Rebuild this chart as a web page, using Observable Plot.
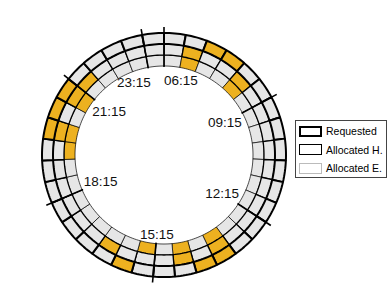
<!DOCTYPE html>
<html>
<head>
<meta charset="utf-8">
<script src="https://cdn.jsdelivr.net/npm/d3@7"></script>
<script src="https://cdn.jsdelivr.net/npm/@observablehq/plot@0.6"></script>
<style>
  body { margin: 0; background: #fff; }
  #wrap { position: relative; width: 390px; height: 293px; font-family: "Liberation Sans", Arial, sans-serif; }
  #legend { position: absolute; left: 295px; top: 120px; width: 92px; height: 58px; box-sizing: border-box;
            border: 1px solid #444; background: #fff; font-size: 10.5px; color: #000; }
  .item { position: absolute; left: 3px; height: 12px; display: flex; align-items: center; }
  .swatch { width: 23px; height: 11px; box-sizing: border-box; background: #fff; margin-right: 4px; }
</style>
</head>
<body>
<div id="wrap">
  <div id="chart"></div>
  <div id="legend"></div>
</div>
<script>
// half-hour slots, clockwise from the top
const slots = ["06:15","06:45","07:15","07:45","08:15","08:45","09:15","09:45","10:15","10:45",
               "11:15","11:45","12:15","12:45","13:15","13:45","14:15","14:45","15:15","15:45",
               "16:15","16:45","17:15","17:45","18:15","18:45","19:15","19:45","20:15","20:45",
               "21:15","21:45","22:15","22:45","23:15"];
const tickLabels = ["06:15","09:15","12:15","15:15","18:15","21:15","23:15"];
const seriesNames = ["Requested","Allocated H.","Allocated E."];
// 1 = slot taken (orange), 0 = free (grey)
const requested  = [0,0,1,1,0, 0,0,0,0,0, 0,0,0,0,1, 1,0,0,0,1, 0,0,0,0,0, 0,0,1,1,1, 0,0,0,0,0];
const allocatedH = [0,1,0,0,1, 0,0,0,0,0, 0,0,0,0,1, 0,1,0,0,0, 1,0,0,0,0, 0,0,1,0,1, 1,0,0,0,0];
const allocatedE = [0,1,0,0,1, 0,0,0,0,0, 0,0,0,0,1, 0,1,0,1,0, 0,0,0,0,0, 0,1,1,0,1, 0,0,0,0,0];

// layout
const W = 390, H = 293, CX = 163.5, CY = 154.5;
const radii = [89, 100, 111, 122];       // inner edge .. outer edge
const FS = 13.5;                          // label font size
const step = 2 * Math.PI / slots.length;
const rings = [
  {name: "Allocated E.", values: allocatedE, r0: radii[0], r1: radii[1], sw: 0.7},
  {name: "Allocated H.", values: allocatedH, r0: radii[1], r1: radii[2], sw: 1.3},
  {name: "Requested",    values: requested,  r0: radii[2], r1: radii[3], sw: 2.0}
];
const pol = (r, a) => [r * Math.sin(a), r * Math.cos(a)];

function cells(ring) {
  const pts = [];
  ring.values.forEach((v, k) => {
    const a0 = k * step, a1 = (k + 1) * step, n = 8, id = ring.name + k;
    for (let i = 0; i <= n; i++) { const [x, y] = pol(ring.r0, a0 + (a1 - a0) * i / n); pts.push({id, v, x, y}); }
    for (let i = n; i >= 0; i--) { const [x, y] = pol(ring.r1, a0 + (a1 - a0) * i / n); pts.push({id, v, x, y}); }
  });
  return pts;
}

const ticks = tickLabels.map(t => {
  const a = slots.indexOf(t) * step;
  const [x1, y1] = pol(88, a), [x2, y2] = pol(128, a);
  const s = Math.sin(a), c = Math.cos(a);
  const nearTop = Math.abs(s) < 0.5 && c > 0;
  let lx, ly, anchor;
  if (nearTop) {
    [lx, ly] = pol(74, a);
    anchor = s >= -1e-9 ? "start" : "end";
  } else {
    // keep the label box just inside the inner ring
    const hw = t.length * FS * 0.26, hh = FS * 0.38;
    const r = 87 - (hw * Math.abs(s) + hh * Math.abs(c));
    [lx, ly] = pol(r, a);
    anchor = "middle";
  }
  return {t, x1, y1, x2, y2, lx, ly, anchor};
});

const marks = rings.map(ring => Plot.line(cells(ring), {
  x: "x", y: "y", z: "id", fill: "v", stroke: "#000", strokeWidth: ring.sw,
  curve: "linear-closed", strokeLinejoin: "miter", strokeLinecap: "butt"
}));
marks.push(Plot.link(ticks, {x1: "x1", y1: "y1", x2: "x2", y2: "y2", stroke: "#000", strokeWidth: 1.6}));
for (const anchor of ["start", "end", "middle"]) {
  marks.push(Plot.text(ticks.filter(d => d.anchor === anchor), {
    x: "lx", y: "ly", text: "t", textAnchor: anchor, fontSize: FS, fill: "#111"
  }));
}

const chart = Plot.plot({
  width: W, height: H, margin: 0,
  x: {domain: [-CX, W - CX], range: [0, W], axis: null},
  y: {domain: [CY - H, CY], range: [H, 0], axis: null},
  color: {type: "ordinal", domain: [0, 1], range: ["#e6e6e6", "#edb120"]},
  style: {fontFamily: "Liberation Sans, Arial, sans-serif", background: "transparent"},
  marks
});
document.getElementById("chart").appendChild(chart);

// legend
const legend = document.getElementById("legend");
const borders = {"Requested": "2px solid #000", "Allocated H.": "1.2px solid #000", "Allocated E.": "1px solid #bbb"};
seriesNames.forEach((name, i) => {
  const item = document.createElement("div");
  item.className = "item";
  item.style.top = (4 + i * 18.5) + "px";
  const sw = document.createElement("div");
  sw.className = "swatch";
  sw.style.border = borders[name];
  const label = document.createElement("span");
  label.textContent = name;
  item.appendChild(sw); item.appendChild(label);
  legend.appendChild(item);
});
</script>
</body>
</html>
